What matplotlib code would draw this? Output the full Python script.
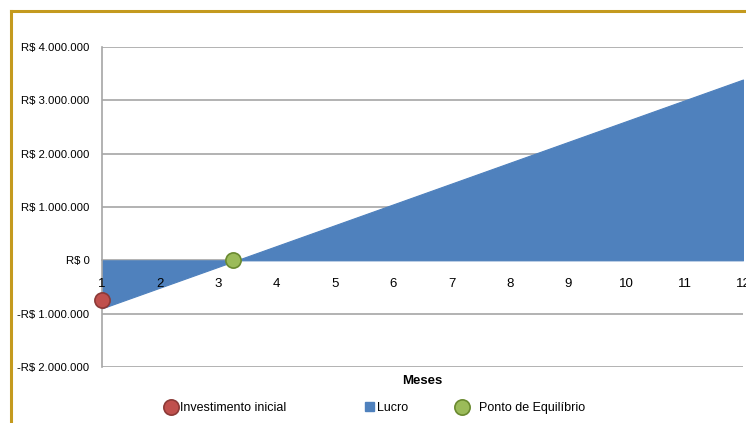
import matplotlib
matplotlib.use("Agg")
import matplotlib.pyplot as plt
from matplotlib.lines import Line2D
from matplotlib.patches import Rectangle

# Dados do fluxo (meses x lucro acumulado)
meses = [1, 2, 3, 4, 5, 6, 7, 8, 9, 10, 11, 12]
lucro = [-900000, -510000, -120000, 270000, 660000, 1050000,
         1440000, 1830000, 2220000, 2610000, 3000000, 3390000]
investimento_mes = [1]
investimento_valor = [-750000]
equilibrio_mes = [3.25]
equilibrio_valor = [0]
y_ticks = [-2000000, -1000000, 0, 1000000, 2000000, 3000000, 4000000]

plt.rcParams["font.family"] = ["Liberation Sans", "DejaVu Sans"]

AZUL = "#4F81BD"
VERMELHO, VERMELHO_BORDA = "#C0504D", "#8C3A37"
VERDE, VERDE_BORDA = "#9BBB59", "#6A8A30"
GRADE = "#A6A6A6"


def formata_reais(v):
    s = f"{abs(v):,.0f}".replace(",", ".")
    return f"-R$ {s}" if v < 0 else f"R$ {s}"


fig = plt.figure(figsize=(7.46, 4.23), dpi=100)

# moldura dourada do gráfico
fig.add_artist(Line2D([11 / 746, 11 / 746], [0, 1 - 11 / 423], color="#C49A1E", lw=2.2))
fig.add_artist(Line2D([11 / 746, 1], [1 - 11 / 423, 1 - 11 / 423], color="#C49A1E", lw=2.2))

ax = fig.add_axes([102 / 746, 1 - 367 / 423, (743 - 102) / 746, 320 / 423])
ax.set_xlim(1, 12)
ax.set_ylim(-2000000, 4000000)

ax.fill_between(meses, 0, lucro, color=AZUL, lw=0.8, edgecolor=AZUL, zorder=2)

for v in y_ticks:
    if v != 0:
        ax.axhline(v, color=GRADE, lw=1.2, zorder=1)

ax.scatter(investimento_mes, investimento_valor, s=120, color=VERMELHO,
           edgecolor=VERMELHO_BORDA, lw=1.2, zorder=5, clip_on=False)
ax.scatter(equilibrio_mes, equilibrio_valor, s=120, color=VERDE,
           edgecolor=VERDE_BORDA, lw=1.2, zorder=5, clip_on=False)

for s in ["top", "right"]:
    ax.spines[s].set_visible(False)
ax.spines["left"].set_color(GRADE)
ax.spines["left"].set_linewidth(1.2)
ax.spines["bottom"].set_position(("data", 0))
ax.spines["bottom"].set_color(GRADE)
ax.spines["bottom"].set_linewidth(1.2)
ax.spines["bottom"].set_zorder(1)

ax.set_xticks(meses)
ax.set_xticklabels([str(m) for m in meses])
ax.set_yticks(y_ticks)
ax.set_yticklabels([formata_reais(v) for v in y_ticks])
ax.tick_params(axis="x", length=0, pad=13, labelsize=9.5)
ax.tick_params(axis="y", length=0, pad=9, labelsize=8.2)
ax.xaxis.set_zorder(4)

fig.text((102 + 743) / 2 / 746, 1 - 381 / 423, "Meses", ha="center", va="center",
         fontsize=9.5, fontweight="bold")

# legenda: três itens posicionados separadamente
itens = [
    (Line2D([], [], marker="o", ls="", markersize=11, markerfacecolor=VERMELHO,
            markeredgecolor=VERMELHO_BORDA, markeredgewidth=1.2), "Investimento inicial", 167, 0.35),
    (Rectangle((0, 0), 1, 1, color=AZUL), "Lucro", 365, 0.3),
    (Line2D([], [], marker="o", ls="", markersize=11, markerfacecolor=VERDE,
            markeredgecolor=VERDE_BORDA, markeredgewidth=1.2), "Ponto de Equilíbrio", 458, 1.0),
]
for h, rotulo, x0, pad in itens:
    fig.legend([h], [rotulo], loc="center left", bbox_to_anchor=(x0 / 746, 1 - 408 / 423),
               frameon=False, fontsize=9, handlelength=0.7, handleheight=0.7,
               handletextpad=pad, borderpad=0, borderaxespad=0)

fig.savefig("out.png", dpi=100)
